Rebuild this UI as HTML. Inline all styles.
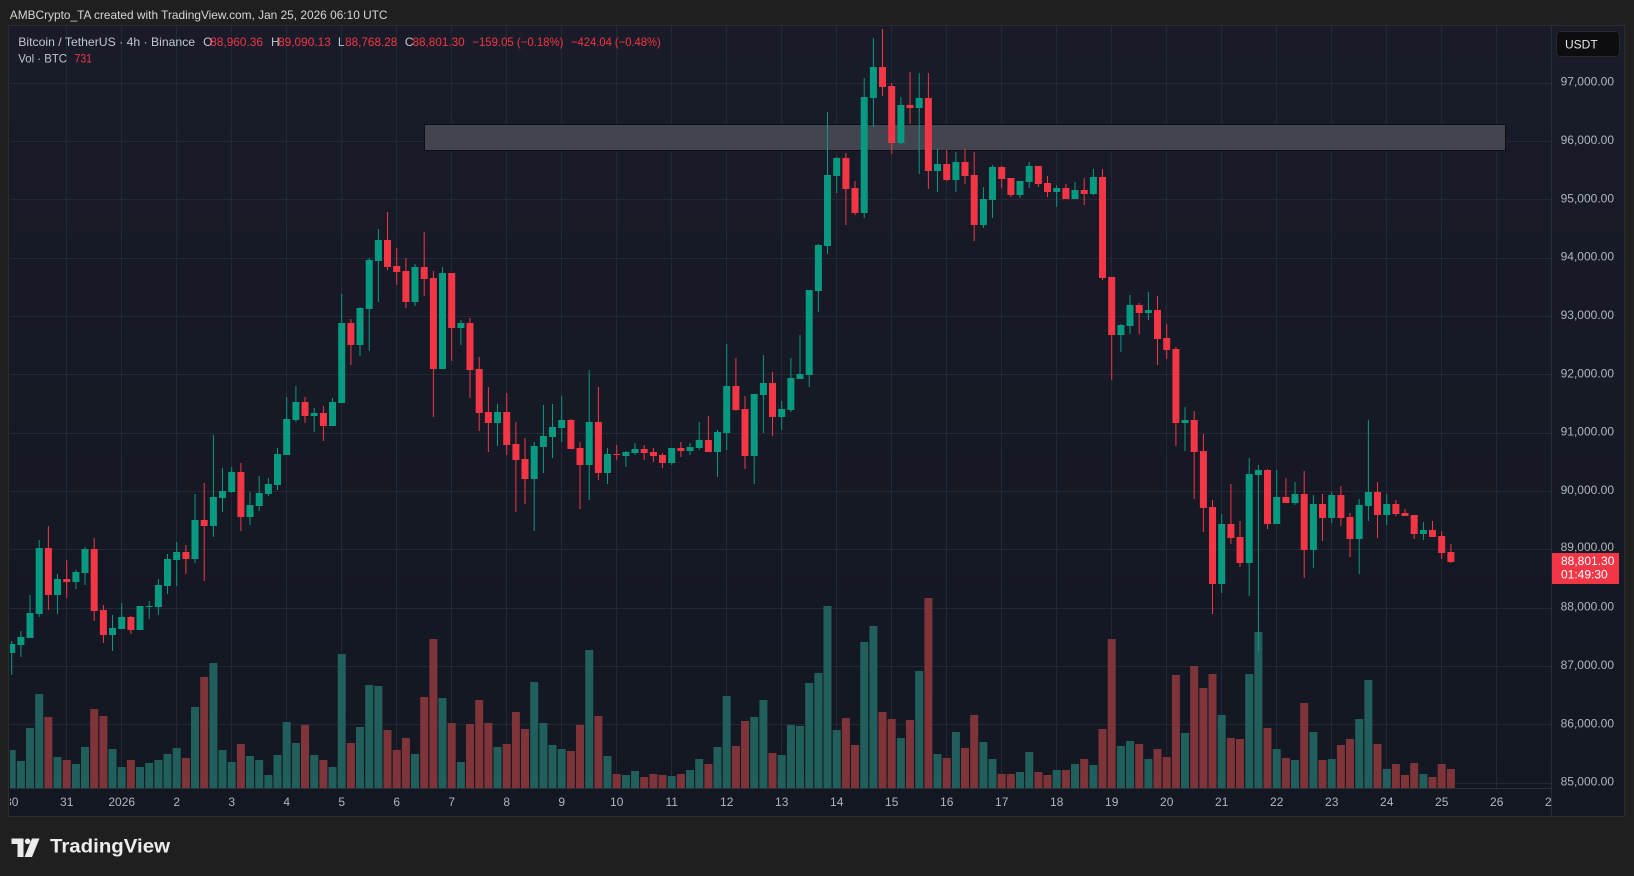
<!DOCTYPE html>
<html><head><meta charset="utf-8"><style>
html,body{margin:0;padding:0;background:#1f1f1f;}
svg{display:block;font-family:"Liberation Sans",sans-serif;}
</style></head><body>
<svg width="1634" height="876" viewBox="0 0 1634 876" xmlns="http://www.w3.org/2000/svg">
<defs>
<linearGradient id="bg" x1="0" y1="0" x2="0" y2="1">
<stop offset="0" stop-color="#191c28"/><stop offset="1" stop-color="#131722"/>
</linearGradient>
<clipPath id="plot"><rect x="10" y="26" width="1541.5" height="762"/></clipPath>
<clipPath id="taxis"><rect x="10" y="788" width="1541.5" height="28"/></clipPath>
</defs>
<rect width="1634" height="876" fill="#1f1f1f"/>
<text x="9.8" y="19" font-size="12" fill="#d6d6d6" textLength="377.7" lengthAdjust="spacingAndGlyphs">AMBCrypto_TA created with TradingView.com, Jan 25, 2026 06:10 UTC</text>
<rect x="8.5" y="25.5" width="1616" height="791" fill="url(#bg)" stroke="#2c2c2e" stroke-width="1"/>
<g stroke="#242835" stroke-width="1">
<path d="M10 83.5H1551M10 141.5H1551M10 199.5H1551M10 258.5H1551M10 316.5H1551M10 374.5H1551M10 433.5H1551M10 491.5H1551M10 549.5H1551M10 608.5H1551M10 666.5H1551M10 724.5H1551M10 783.5H1551"/>
<path d="M66.5 26V788M121.5 26V788M176.5 26V788M231.5 26V788M286.5 26V788M341.5 26V788M396.5 26V788M451.5 26V788M506.5 26V788M561.5 26V788M616.5 26V788M671.5 26V788M726.5 26V788M781.5 26V788M836.5 26V788M891.5 26V788M946.5 26V788M1001.5 26V788M1056.5 26V788M1111.5 26V788M1166.5 26V788M1221.5 26V788M1276.5 26V788M1331.5 26V788M1386.5 26V788M1441.5 26V788M1496.5 26V788"/>
</g>
<path d="M1551.5 26V816M10 788.5H1551.5" stroke="#2a2e39" stroke-width="1"/>
<g clip-path="url(#plot)">
<rect x="424.5" y="124.5" width="1081" height="26" fill="#42454f" stroke="#0d0e12" stroke-width="1"/>
<path fill="#215f5c" d="M7.7 750h8V788h-8zM16.9 761h8V788h-8zM26 728h8V788h-8zM35.2 694h8V788h-8zM53.5 757h8V788h-8zM71.9 764h8V788h-8zM81 747h8V788h-8zM108.5 749h8V788h-8zM117.7 767h8V788h-8zM136 767h8V788h-8zM145.2 763h8V788h-8zM154.4 760h8V788h-8zM163.5 754h8V788h-8zM172.7 748h8V788h-8zM191 707h8V788h-8zM209.4 663h8V788h-8zM218.5 750h8V788h-8zM227.7 762h8V788h-8zM246 756h8V788h-8zM255.2 760h8V788h-8zM264.4 775h8V788h-8zM273.5 755h8V788h-8zM282.7 722h8V788h-8zM291.9 743h8V788h-8zM310.2 755h8V788h-8zM328.5 767h8V788h-8zM337.7 654h8V788h-8zM356 727h8V788h-8zM365.2 685h8V788h-8zM374.4 686h8V788h-8zM411 754h8V788h-8zM438.5 698h8V788h-8zM456.9 762h8V788h-8zM493.5 747h8V788h-8zM530.2 682h8V788h-8zM539.4 723h8V788h-8zM548.5 745h8V788h-8zM557.7 749h8V788h-8zM585.2 650h8V788h-8zM603.5 756h8V788h-8zM621.9 775h8V788h-8zM631 771h8V788h-8zM667.7 776h8V788h-8zM686 770h8V788h-8zM695.2 759h8V788h-8zM713.5 747h8V788h-8zM722.7 696h8V788h-8zM750.2 717h8V788h-8zM759.4 700h8V788h-8zM777.7 755h8V788h-8zM786.9 725h8V788h-8zM796 726h8V788h-8zM805.2 683h8V788h-8zM814.4 673h8V788h-8zM823.5 606h8V788h-8zM832.7 730h8V788h-8zM860.2 642h8V788h-8zM869.4 626h8V788h-8zM896.9 738h8V788h-8zM915.2 671h8V788h-8zM933.5 754h8V788h-8zM951.9 732h8V788h-8zM979.4 742h8V788h-8zM988.5 759h8V788h-8zM1016 772h8V788h-8zM1025.2 752h8V788h-8zM1052.7 770h8V788h-8zM1071 764h8V788h-8zM1089.4 765h8V788h-8zM1116.9 746h8V788h-8zM1126 741h8V788h-8zM1144.4 759h8V788h-8zM1181 733h8V788h-8zM1217.7 715h8V788h-8zM1245.2 674h8V788h-8zM1254.4 632h8V788h-8zM1272.7 749h8V788h-8zM1291 760h8V788h-8zM1309.4 732h8V788h-8zM1327.7 759h8V788h-8zM1355.2 719h8V788h-8zM1364.4 680h8V788h-8zM1382.7 769h8V788h-8zM1419.4 774h8V788h-8z"/>
<path fill="#7e3439" d="M44.4 717h8V788h-8zM62.7 760h8V788h-8zM90.2 709h8V788h-8zM99.4 716h8V788h-8zM126.9 760h8V788h-8zM181.9 758h8V788h-8zM200.2 677h8V788h-8zM236.9 744h8V788h-8zM301 725h8V788h-8zM319.4 760h8V788h-8zM346.9 743h8V788h-8zM383.5 730h8V788h-8zM392.7 750h8V788h-8zM401.9 738h8V788h-8zM420.2 697h8V788h-8zM429.4 639h8V788h-8zM447.7 723h8V788h-8zM466 724h8V788h-8zM475.2 700h8V788h-8zM484.4 723h8V788h-8zM502.7 744h8V788h-8zM511.9 712h8V788h-8zM521 729h8V788h-8zM566.9 751h8V788h-8zM576 725h8V788h-8zM594.4 716h8V788h-8zM612.7 774h8V788h-8zM640.2 777h8V788h-8zM649.4 774h8V788h-8zM658.5 775h8V788h-8zM676.9 774h8V788h-8zM704.4 764h8V788h-8zM731.9 746h8V788h-8zM741 721h8V788h-8zM768.5 753h8V788h-8zM841.9 718h8V788h-8zM851 745h8V788h-8zM878.5 712h8V788h-8zM887.7 719h8V788h-8zM906 720h8V788h-8zM924.4 598h8V788h-8zM942.7 758h8V788h-8zM961 748h8V788h-8zM970.2 715h8V788h-8zM997.7 774h8V788h-8zM1006.9 774h8V788h-8zM1034.4 772h8V788h-8zM1043.5 775h8V788h-8zM1061.9 770h8V788h-8zM1080.2 759h8V788h-8zM1098.5 729h8V788h-8zM1107.7 639h8V788h-8zM1135.2 744h8V788h-8zM1153.5 749h8V788h-8zM1162.7 757h8V788h-8zM1171.9 675h8V788h-8zM1190.2 666h8V788h-8zM1199.4 688h8V788h-8zM1208.5 674h8V788h-8zM1226.9 738h8V788h-8zM1236 739h8V788h-8zM1263.5 728h8V788h-8zM1281.9 758h8V788h-8zM1300.2 703h8V788h-8zM1318.5 760h8V788h-8zM1336.9 745h8V788h-8zM1346 739h8V788h-8zM1373.5 744h8V788h-8zM1391.9 764h8V788h-8zM1401 775h8V788h-8zM1410.2 763h8V788h-8zM1428.5 777h8V788h-8zM1437.7 764h8V788h-8zM1446.9 769h8V788h-8z"/>
<path stroke="#089981" stroke-width="1" fill="none" d="M11.7 641V675M20.9 631V657M30 595V638M39.2 540V617M57.5 574V614M75.9 570V589M85 547V585M112.5 615V651M121.7 603V629M140 606V630M149.2 601V619M158.4 579V615M167.5 554V594M176.7 542V586M195 494V563M213.4 435V537M222.5 468V512M231.7 467V493M250 492V525M259.2 476V511M268.4 478V496M277.5 448V490M286.7 397V455M295.9 386V422M314.2 408V432M332.5 398V426M341.7 294V403M360 307V356M369.2 258V351M378.4 229V302M415 264V306M442.5 267V369M460.9 320V345M497.5 404V446M534.2 442V531M543.4 405V473M552.5 404V458M561.7 396V442M589.2 370V500M607.5 448V484M625.9 451V467M635 443V455M671.7 448V465M690 443V455M699.2 422V450M717.5 430V477M726.7 344V450M754.2 394V484M763.4 355V433M781.7 401V430M790.9 358V412M800 335V379M809.2 290V387M818.4 244V312M827.5 112V254M836.7 157V193M864.2 78V218M873.4 38V127M900.9 97V144M919.2 73V174M937.5 149V192M955.9 152V192M983.4 187V228M992.5 165V218M1020 181V198M1029.2 162V188M1056.7 185V207M1075 182V199M1093.4 169V195M1120.9 324V352M1130 295V334M1148.4 292V320M1185 407V451M1221.7 514V593M1249.2 458V596M1258.4 465V651M1276.7 470V524M1295 482V505M1313.4 495V568M1331.7 492V523M1359.2 499V574M1368.4 420V521M1386.7 494V525M1423.4 522V540"/>
<path fill="#089981" d="M8.2 644h7V653h-7zM17.4 637h7V645h-7zM26.5 613h7V638h-7zM35.7 548h7V614h-7zM54 579h7V595h-7zM72.4 572h7V582h-7zM81.5 549h7V573h-7zM109 628h7V635h-7zM118.2 617h7V629h-7zM136.5 606h7V630h-7zM145.7 606h7V607h-7zM154.9 585h7V607h-7zM164 559h7V586h-7zM173.2 552h7V560h-7zM191.5 520h7V559h-7zM209.9 497h7V526h-7zM219 491h7V498h-7zM228.2 472h7V492h-7zM246.5 505h7V517h-7zM255.7 493h7V506h-7zM264.9 484h7V494h-7zM274 454h7V485h-7zM283.2 419h7V455h-7zM292.4 402h7V420h-7zM310.7 413h7V416h-7zM329 402h7V426h-7zM338.2 323h7V403h-7zM356.5 308h7V345h-7zM365.7 260h7V309h-7zM374.9 240h7V261h-7zM411.5 267h7V302h-7zM439 273h7V369h-7zM457.4 323h7V328h-7zM494 412h7V423h-7zM530.7 446h7V479h-7zM539.9 436h7V447h-7zM549 427h7V437h-7zM558.2 420h7V428h-7zM585.7 422h7V465h-7zM604 454h7V473h-7zM622.4 452h7V456h-7zM631.5 449h7V453h-7zM668.2 448h7V463h-7zM686.5 447h7V451h-7zM695.7 440h7V448h-7zM714 432h7V452h-7zM723.2 386h7V433h-7zM750.7 394h7V456h-7zM759.9 383h7V395h-7zM778.2 409h7V417h-7zM787.4 378h7V410h-7zM796.5 374h7V379h-7zM805.7 290h7V375h-7zM814.9 245h7V291h-7zM824 175h7V246h-7zM833.2 158h7V176h-7zM860.7 97h7V213h-7zM869.9 67h7V98h-7zM897.4 105h7V143h-7zM915.7 98h7V108h-7zM934 164h7V171h-7zM952.4 162h7V180h-7zM979.9 199h7V225h-7zM989 167h7V200h-7zM1016.5 181h7V195h-7zM1025.7 166h7V182h-7zM1053.2 188h7V192h-7zM1071.5 190h7V199h-7zM1089.9 177h7V194h-7zM1117.4 325h7V335h-7zM1126.5 305h7V326h-7zM1144.9 310h7V313h-7zM1181.5 420h7V423h-7zM1218.2 524h7V584h-7zM1245.7 474h7V563h-7zM1254.9 470h7V475h-7zM1273.2 497h7V524h-7zM1291.5 494h7V503h-7zM1309.9 504h7V550h-7zM1328.2 495h7V518h-7zM1355.7 505h7V539h-7zM1364.9 492h7V506h-7zM1383.2 504h7V515h-7zM1419.9 530h7V534h-7z"/>
<path stroke="#f23645" stroke-width="1" fill="none" d="M48.4 526V610M66.7 560V598M94.2 538V621M103.4 605V643M130.9 616V634M185.9 545V574M204.2 483V581M240.9 463V531M305 397V423M323.4 406V441M350.9 319V365M387.5 212V270M396.7 248V285M405.9 258V308M424.2 232V296M433.4 271V417M451.7 273V361M470 318V398M479.2 357V431M488.4 387V452M506.7 393V455M515.9 422V512M525 438V504M570.9 419V449M580 442V509M598.4 387V480M616.7 445V460M644.2 445V460M653.4 448V462M662.5 453V468M680.9 442V457M708.4 416V452M735.9 358V411M745 396V469M772.5 372V436M845.9 153V225M855 181V215M882.5 29V96M891.7 83V154M910 72V124M928.4 73V189M946.7 150V181M965 149V184M974.2 152V241M1001.7 166V188M1010.9 178V197M1038.4 166V187M1047.5 176V197M1065.9 184V199M1084.2 178V205M1102.5 169V280M1111.7 277V380M1139.2 303V334M1157.5 296V365M1166.7 324V359M1175.9 347V446M1194.2 411V499M1203.4 434V532M1212.5 500V614M1230.9 484V544M1240 521V567M1267.5 469V529M1285.9 478V503M1304.2 471V578M1322.5 494V541M1340.9 486V526M1350 513V557M1377.5 482V538M1395.9 500V516M1405 509V516M1414.2 515V539M1432.5 521V537M1441.7 531V559M1450.9 544V563"/>
<path fill="#f23645" d="M44.9 548h7V595h-7zM63.2 579h7V582h-7zM90.7 549h7V611h-7zM99.9 610h7V635h-7zM127.4 617h7V630h-7zM182.4 552h7V559h-7zM200.7 520h7V526h-7zM237.4 472h7V517h-7zM301.5 402h7V416h-7zM319.9 413h7V426h-7zM347.4 323h7V345h-7zM384 240h7V267h-7zM393.2 266h7V272h-7zM402.4 271h7V302h-7zM420.7 267h7V279h-7zM429.9 278h7V369h-7zM448.2 273h7V328h-7zM466.5 323h7V370h-7zM475.7 369h7V413h-7zM484.9 412h7V423h-7zM503.2 412h7V445h-7zM512.4 444h7V460h-7zM521.5 459h7V479h-7zM567.4 420h7V449h-7zM576.5 448h7V465h-7zM594.9 422h7V473h-7zM613.2 454h7V455h-7zM640.7 449h7V453h-7zM649.9 452h7V456h-7zM659 455h7V463h-7zM677.4 448h7V451h-7zM704.9 440h7V452h-7zM732.4 386h7V410h-7zM741.5 409h7V456h-7zM769 383h7V417h-7zM842.4 158h7V189h-7zM851.5 188h7V213h-7zM879 67h7V87h-7zM888.2 86h7V143h-7zM906.5 105h7V108h-7zM924.9 98h7V171h-7zM943.2 164h7V180h-7zM961.5 162h7V176h-7zM970.7 175h7V225h-7zM998.2 167h7V179h-7zM1007.4 178h7V195h-7zM1034.9 166h7V184h-7zM1044 183h7V192h-7zM1062.4 188h7V199h-7zM1080.7 190h7V194h-7zM1099 177h7V278h-7zM1108.2 277h7V335h-7zM1135.7 305h7V313h-7zM1154 310h7V339h-7zM1163.2 338h7V350h-7zM1172.4 349h7V423h-7zM1190.7 420h7V452h-7zM1199.9 451h7V508h-7zM1209 507h7V584h-7zM1227.4 524h7V538h-7zM1236.5 537h7V563h-7zM1264 470h7V524h-7zM1282.4 497h7V503h-7zM1300.7 494h7V550h-7zM1319 504h7V518h-7zM1337.4 495h7V518h-7zM1346.5 517h7V539h-7zM1374 492h7V515h-7zM1392.4 504h7V514h-7zM1401.5 513h7V516h-7zM1410.7 515h7V534h-7zM1429 530h7V537h-7zM1438.2 536h7V553h-7zM1447.4 552h7V562h-7z"/>
</g>
<g font-size="12" fill="#c3c6ce">
<text x="18.3" y="46" textLength="176.8" lengthAdjust="spacingAndGlyphs">Bitcoin / TetherUS · 4h · Binance</text>
<text x="203.1" y="46">O</text><text x="271" y="46">H</text><text x="337.9" y="46">L</text><text x="404.9" y="46">C</text>
<text x="18.3" y="62.7" textLength="48.7" lengthAdjust="spacingAndGlyphs">Vol · BTC</text>
</g>
<g font-size="12" fill="#f23645">
<text x="210.3" y="46" textLength="52.6" lengthAdjust="spacingAndGlyphs">88,960.36</text>
<text x="278.1" y="46" textLength="52.7" lengthAdjust="spacingAndGlyphs">89,090.13</text>
<text x="345.1" y="46" textLength="52.2" lengthAdjust="spacingAndGlyphs">88,768.28</text>
<text x="412.5" y="46" textLength="52.2" lengthAdjust="spacingAndGlyphs">88,801.30</text>
<text x="472.3" y="46" textLength="91.1" lengthAdjust="spacingAndGlyphs">−159.05 (−0.18%)</text>
<text x="571" y="46" textLength="89.7" lengthAdjust="spacingAndGlyphs">−424.04 (−0.48%)</text>
<text x="74.5" y="62.7" textLength="17.5" lengthAdjust="spacingAndGlyphs">731</text>
</g>
<rect x="1556.5" y="31.5" width="63" height="25" rx="4" fill="#0d0d0f" stroke="#2a2a2e" stroke-width="1"/>
<text x="1565" y="48.5" font-size="12" fill="#e6e6e6">USDT</text>
<g font-size="12" fill="#b2b5be" text-anchor="end">
<text x="1614" y="85.7">97,000.00</text>
<text x="1614" y="144">96,000.00</text>
<text x="1614" y="202.4">95,000.00</text>
<text x="1614" y="260.7">94,000.00</text>
<text x="1614" y="319">93,000.00</text>
<text x="1614" y="377.4">92,000.00</text>
<text x="1614" y="435.7">91,000.00</text>
<text x="1614" y="494">90,000.00</text>
<text x="1614" y="551">89,000.00</text>
<text x="1614" y="610.7">88,000.00</text>
<text x="1614" y="669">87,000.00</text>
<text x="1614" y="727.4">86,000.00</text>
<text x="1614" y="785.7">85,000.00</text>
</g>
<rect x="1552" y="553" width="67" height="31" fill="#f23645"/>
<text x="1561" y="565" font-size="12" fill="#ffffff">88,801.30</text>
<text x="1561" y="578.5" font-size="12" fill="#ffffff">01:49:30</text>
<g clip-path="url(#taxis)" font-size="12" fill="#b2b5be" text-anchor="middle">
<text x="11.7" y="806">30</text><text x="66.7" y="806">31</text><text x="121.7" y="806">2026</text>
<text x="176.7" y="806">2</text><text x="231.7" y="806">3</text><text x="286.7" y="806">4</text>
<text x="341.7" y="806">5</text><text x="396.7" y="806">6</text><text x="451.7" y="806">7</text>
<text x="506.7" y="806">8</text><text x="561.7" y="806">9</text><text x="616.7" y="806">10</text>
<text x="671.7" y="806">11</text><text x="726.7" y="806">12</text><text x="781.7" y="806">13</text>
<text x="836.7" y="806">14</text><text x="891.7" y="806">15</text><text x="946.7" y="806">16</text>
<text x="1001.7" y="806">17</text><text x="1056.7" y="806">18</text><text x="1111.7" y="806">19</text>
<text x="1166.7" y="806">20</text><text x="1221.7" y="806">21</text><text x="1276.7" y="806">22</text>
<text x="1331.7" y="806">23</text><text x="1386.7" y="806">24</text><text x="1441.7" y="806">25</text>
<text x="1496.7" y="806">26</text><text x="1551.7" y="806">27</text>
</g>
<g fill="#ececec">
<rect x="11.5" y="838.5" width="12" height="5.5"/>
<rect x="17.5" y="838.5" width="6" height="18.5"/>
<circle cx="27.6" cy="841.3" r="2.8"/>
<polygon points="32,838.5 39.5,838.5 32,857 24.5,857"/>
<text x="50" y="852.7" font-size="19" font-weight="700" textLength="120" lengthAdjust="spacingAndGlyphs">TradingView</text>
</g>
</svg>
</body></html>
